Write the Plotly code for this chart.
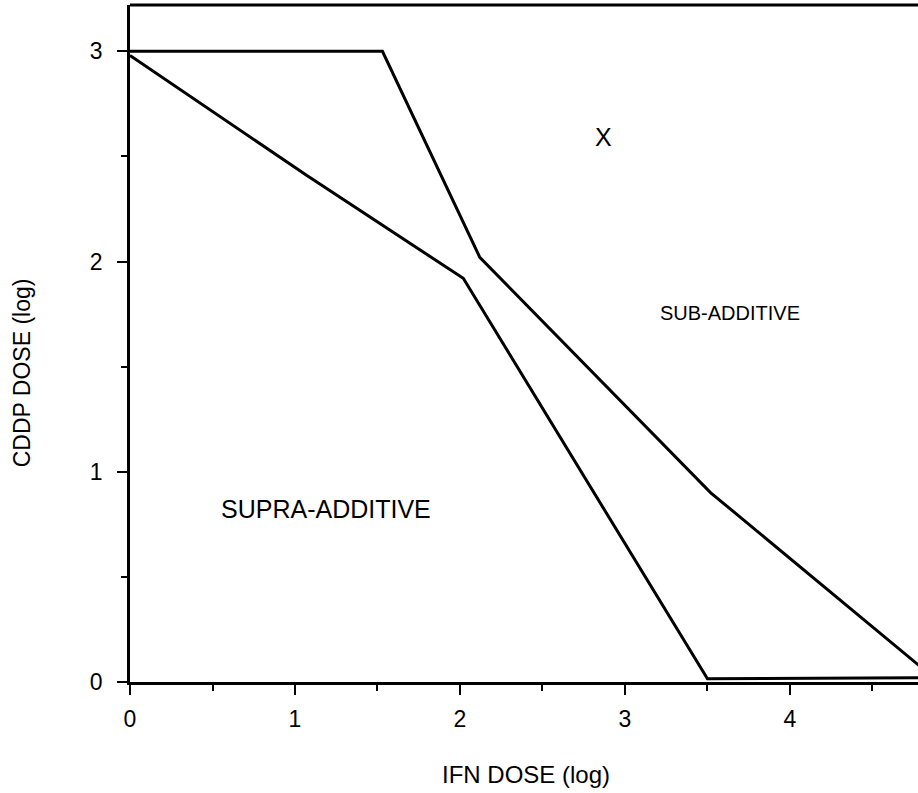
import plotly.graph_objects as go

# Data (log doses)
upper_x = [0.0, 1.53, 2.12, 3.52, 4.78]
upper_y = [3.0, 3.0, 2.02, 0.90, 0.08]
lower_x = [0.0, 1.07, 2.02, 3.50, 4.78]
lower_y = [2.98, 2.41, 1.92, 0.015, 0.02]

x_ticks = [0, 1, 2, 3, 4]
y_ticks = [0, 1, 2, 3]
x_title = "IFN DOSE (log)"
y_title = "CDDP DOSE (log)"
labels = ["SUPRA-ADDITIVE", "SUB-ADDITIVE", "X"]

FONT = "Liberation Sans, Arial, sans-serif"

fig = go.Figure()
for xs, ys in [(upper_x, upper_y), (lower_x, lower_y)]:
    fig.add_trace(go.Scatter(x=xs, y=ys, mode="lines",
                             line=dict(color="black", width=3),
                             showlegend=False, hoverinfo="skip"))

axis_common = dict(showgrid=False, zeroline=False, showline=True,
                   linecolor="black", linewidth=2.5, ticks="outside",
                   tickcolor="black", tickwidth=2, ticklen=10,
                   tickfont=dict(family=FONT, size=23, color="black"))

fig.update_layout(
    width=918, height=793,
    margin=dict(l=130, r=0, t=5, b=111),
    paper_bgcolor="white", plot_bgcolor="white",
    xaxis=dict(range=[0, 4.776], tickvals=x_ticks, ticktext=[str(v) for v in x_ticks],
               ticklabelstandoff=5,
               minor=dict(dtick=0.5, tick0=0, ticks="outside", ticklen=6,
                          tickwidth=2, tickcolor="black"),
               **axis_common),
    yaxis=dict(range=[0, 3.22], tickvals=y_ticks, ticktext=[str(v) for v in y_ticks],
               ticklabelstandoff=10,
               minor=dict(dtick=0.5, tick0=0, ticks="outside", ticklen=6,
                          tickwidth=2, tickcolor="black"),
               **axis_common),
    shapes=[dict(type="line", xref="paper", yref="paper", x0=0, x1=1, y0=1, y1=1,
                 line=dict(color="black", width=3))],
    annotations=[
        dict(text=x_title, xref="paper", yref="paper", x=0.5025, y=-0.136,
             xanchor="center", yanchor="middle", showarrow=False,
             font=dict(family=FONT, size=24, color="black")),
        dict(text=y_title, xref="paper", yref="paper", x=-0.137, y=0.456,
             xanchor="center", yanchor="middle", showarrow=False, textangle=-90,
             font=dict(family=FONT, size=23, color="black")),
        dict(text=labels[0], xref="x", yref="y", x=1.185, y=0.823,
             xanchor="center", yanchor="middle", showarrow=False,
             font=dict(family=FONT, size=25, color="black")),
        dict(text=labels[1], xref="x", yref="y", x=3.636, y=1.755,
             xanchor="center", yanchor="middle", showarrow=False,
             font=dict(family=FONT, size=20, color="black")),
        dict(text=labels[2], xref="x", yref="y", x=2.87, y=2.59,
             xanchor="center", yanchor="middle", showarrow=False,
             font=dict(family=FONT, size=25, color="black")),
    ],
)

fig.write_html("out.html")
